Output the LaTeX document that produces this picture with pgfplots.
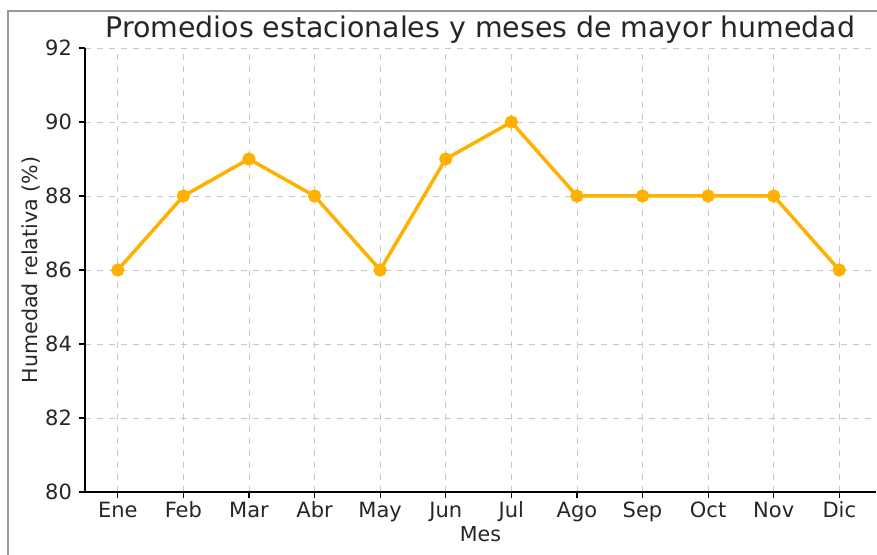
\documentclass[border=0pt]{standalone}
\usepackage{pgfplots}
\pgfplotsset{compat=1.18}
\usepackage{fontspec}
\setmainfont{DejaVu Sans}
\definecolor{humline}{RGB}{255,176,0}
\definecolor{txt}{RGB}{38,38,38}
\begin{document}
\begin{tikzpicture}
\path[use as bounding box] (0,0) rectangle (438.5pt,277.5pt);
\draw[gray!80, line width=0.8pt] (4pt,0) -- (4pt,272pt) -- (438.5pt,272pt);
\begin{axis}[
    at={(42.5pt,31.5pt)}, anchor=south west,
    scale only axis, width=395.5pt, height=222pt,
    xmin=-0.5, xmax=11.56, ymin=80, ymax=92,
    axis lines*=left,
    axis line style={line width=0.6pt, black},
    xtick={0,...,11},
    xticklabels={Ene,Feb,Mar,Abr,May,Jun,Jul,Ago,Sep,Oct,Nov,Dic},
    ytick={80,82,...,92},
    tick style={black, line width=0.6pt},
    tick align=outside, major tick length=3pt,
    grid=major,
    grid style={dashed, black!22, line width=0.4pt},
    ticklabel style={font=\fontsize{10.5}{12}\selectfont, text=txt},
    xticklabel style={text height=0.75em, text depth=0.22em, yshift=1.5pt},
    /pgf/number format/assume math mode=true,
    xlabel={Mes}, ylabel={Humedad relativa (\%)},
    label style={font=\fontsize{10.3}{12}\selectfont, text=txt},
    xlabel style={yshift=4.5pt},
    ylabel style={yshift=-4.5pt},
    title={Promedios estacionales y meses de mayor humedad},
    title style={font=\fontsize{14.2}{16}\selectfont, text=txt, yshift=-7pt},
]
\addplot[humline, line width=1.75pt, mark=*, mark size=2.4pt,
         mark options={fill=humline, draw=humline}]
    coordinates {(0,86)(1,88)(2,89)(3,88)(4,86)(5,89)(6,90)(7,88)(8,88)(9,88)(10,88)(11,86)};
\end{axis}
\end{tikzpicture}
\end{document}
